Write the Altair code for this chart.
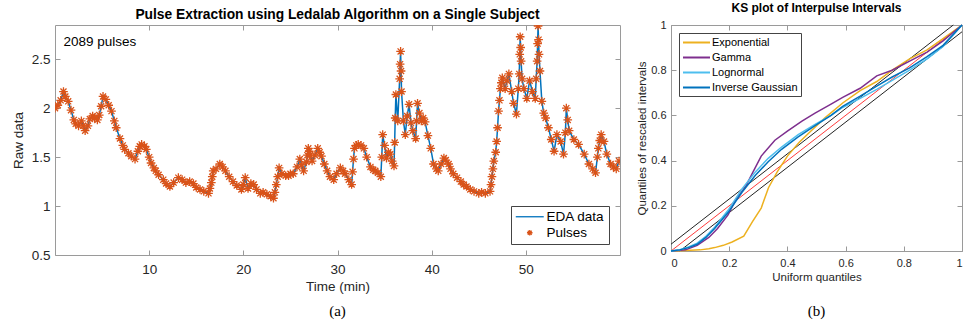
import altair as alt
import pandas as pd

# ---------------- (a) EDA time series ----------------
time_min = [
    0.0, 0.3, 0.6, 0.9, 1.1, 1.4, 1.7, 2.0, 2.2, 2.5,
    2.8, 3.0, 3.2, 3.5, 3.7, 4.0, 4.2, 4.5, 4.7, 4.9,
    5.1, 5.4, 5.7, 6.0, 6.3, 6.5, 6.9, 7.2, 7.4, 7.8,
    8.1, 8.5, 8.8, 9.0, 9.2, 9.5, 9.7, 10.0, 10.2, 10.5,
    10.7, 11.0, 11.5, 11.8, 12.2, 12.6, 13.1, 13.5, 13.9, 14.3,
    14.7, 15.0, 15.4, 15.8, 16.3, 16.6, 16.8, 17.1, 17.5, 17.8,
    18.1, 18.5, 18.9, 19.3, 19.8, 20.0, 20.2, 20.5, 20.8, 21.1,
    21.4, 21.8, 22.1, 22.5, 22.9, 23.2, 23.5, 23.8, 24.1, 24.5,
    24.8, 25.0, 25.3, 25.7, 26.0, 26.2, 26.4, 26.7, 26.9, 27.1,
    27.3, 27.6, 27.9, 28.1, 28.3, 28.6, 28.9, 29.2, 29.6, 29.9,
    30.3, 30.6, 30.8, 31.2, 31.5, 31.8, 32.0, 32.2, 32.5, 32.8,
    33.1, 33.5, 33.8, 34.0, 34.3, 34.6, 34.8, 35.0, 35.2, 35.4,
    35.6, 35.8, 36.0, 36.2, 36.4, 36.6, 36.7, 36.8, 37.0, 37.2,
    37.4, 37.6, 37.8, 38.0, 38.3, 38.5, 38.7, 38.9, 39.1, 39.3,
    39.6, 39.9, 40.2, 40.5, 40.7, 41.0, 41.3, 41.5, 41.8, 42.0,
    42.3, 42.7, 43.1, 43.4, 43.7, 44.1, 44.5, 45.0, 45.3, 45.7,
    46.2, 46.4, 46.6, 46.8, 46.9, 47.0, 47.1, 47.3, 47.5, 47.8,
    48.0, 48.2, 48.5, 48.7, 49.0, 49.2, 49.3, 49.4, 49.5, 49.6,
    49.8, 50.1, 50.4, 50.7, 51.0, 51.1, 51.2, 51.3, 51.4, 51.5,
    51.7, 51.9, 52.1, 52.4, 52.7, 53.0, 53.3, 53.7, 54.0, 54.2,
    54.3, 54.6, 55.1, 55.6, 56.2, 56.7, 57.1, 57.4, 57.6, 57.7,
    58.0, 58.3, 58.6, 59.0, 59.3, 59.6, 59.9,
]
raw_data = [
    2.00, 2.03, 2.08, 2.17, 2.12, 2.07, 1.98, 1.88, 1.84, 1.82,
    1.87, 1.82, 1.77, 1.82, 1.89, 1.92, 1.90, 1.88, 1.93, 2.02,
    2.12, 2.09, 2.03, 1.97, 1.87, 1.80, 1.69, 1.62, 1.58, 1.54,
    1.51, 1.48, 1.56, 1.61, 1.63, 1.61, 1.58, 1.50, 1.44, 1.39,
    1.36, 1.32, 1.27, 1.23, 1.20, 1.24, 1.29, 1.27, 1.24, 1.25,
    1.23, 1.19, 1.17, 1.15, 1.13, 1.24, 1.36, 1.38, 1.43, 1.40,
    1.36, 1.30, 1.25, 1.21, 1.17, 1.22, 1.29, 1.18, 1.23, 1.22,
    1.17, 1.13, 1.14, 1.12, 1.10, 1.08, 1.22, 1.39, 1.33, 1.31,
    1.31, 1.33, 1.33, 1.40, 1.48, 1.42, 1.36, 1.45, 1.59, 1.52,
    1.46, 1.52, 1.59, 1.55, 1.51, 1.43, 1.36, 1.30, 1.27, 1.33,
    1.39, 1.36, 1.33, 1.27, 1.22, 1.59, 1.62, 1.63, 1.62, 1.59,
    1.50, 1.40, 1.37, 1.36, 1.34, 1.30, 1.73, 1.62, 1.49, 1.55,
    1.53, 1.46, 1.41, 2.14, 1.87, 2.30, 2.58, 2.17, 1.87, 1.73,
    1.92, 2.04, 1.85, 1.77, 1.69, 2.05, 1.95, 1.87, 1.90, 1.86,
    1.72, 1.59, 1.43, 1.38, 1.36, 1.43, 1.49, 1.47, 1.43, 1.38,
    1.33, 1.29, 1.25, 1.22, 1.20, 1.17, 1.15, 1.13, 1.14, 1.13,
    1.15, 1.30, 1.46, 1.55, 1.66, 1.80, 1.97, 2.20, 2.31, 2.20,
    2.28, 2.35, 2.17, 2.05, 1.94, 2.20, 2.35, 2.73, 2.48, 2.30,
    2.20, 2.10, 2.28, 2.17, 2.10, 2.30, 2.48, 2.84, 2.55, 2.38,
    2.07, 1.95, 1.90, 1.80, 1.68, 1.56, 1.73, 1.66, 1.53, 1.75,
    2.00, 1.77, 1.68, 1.63, 1.53, 1.43, 1.38, 1.34, 1.50, 1.59,
    1.73, 1.66, 1.53, 1.43, 1.40, 1.38, 1.46,
]
# extra readings taken along the steep rises and spikes
steep_time = [23.35, 23.65, 31.6, 31.7, 34.7, 36.07, 36.13, 36.65, 36.75, 38.4,
              49.35, 51.25, 51.35, 54.45, 57.85, 46.3, 46.5, 47.2, 47.4, 49.45,
              26.8, 27.0, 16.45, 16.7]
steep_value = [1.14, 1.30, 1.35, 1.48, 1.50, 1.65, 1.90, 2.45, 2.38, 1.87,
               2.55, 2.66, 2.70, 1.88, 1.67, 1.22, 1.38, 2.08, 2.26, 2.62,
               1.52, 1.56, 1.18, 1.30]
series_names = ["EDA data", "Pulses"]
series_colors = ["#0072BD", "#D95319"]
note_text = ["2089 pulses"]
note_time = [0.9]
note_value = [2.68]
x_ticks_a = [10, 20, 30, 40, 50]
y_ticks_a = [0.5, 1, 1.5, 2, 2.5]

# ---------------- (b) KS plot ----------------
exp_u = [0, 0.05, 0.10, 0.13, 0.15, 0.18, 0.21, 0.25, 0.28, 0.31, 0.335, 0.365,
         0.40, 0.44, 0.48, 0.53, 0.59, 0.65, 0.707, 0.76, 0.82, 0.88, 0.935, 1.0]
exp_q = [0, 0.002, 0.005, 0.01, 0.015, 0.025, 0.04, 0.066, 0.13, 0.19, 0.28, 0.35,
         0.42, 0.48, 0.53, 0.59, 0.655, 0.71, 0.75, 0.80, 0.85, 0.89, 0.94, 1.0]
gam_u = [0, 0.05, 0.09, 0.13, 0.16, 0.196, 0.226, 0.254, 0.278, 0.31, 0.357, 0.40,
         0.45, 0.495, 0.55, 0.59, 0.65, 0.707, 0.76, 0.82, 0.88, 0.935, 1.0]
gam_q = [0, 0.005, 0.025, 0.06, 0.10, 0.16, 0.235, 0.28, 0.34, 0.42, 0.49, 0.53,
         0.575, 0.61, 0.65, 0.68, 0.72, 0.775, 0.80, 0.84, 0.88, 0.93, 1.0]
logn_u = [0, 0.03, 0.06, 0.09, 0.12, 0.15, 0.196, 0.244, 0.29, 0.334, 0.38, 0.437,
          0.495, 0.55, 0.59, 0.65, 0.707, 0.76, 0.82, 0.88, 0.935, 1.0]
logn_q = [0, 0.006, 0.018, 0.035, 0.065, 0.105, 0.18, 0.275, 0.35, 0.41, 0.46, 0.515,
          0.56, 0.60, 0.635, 0.675, 0.715, 0.755, 0.80, 0.85, 0.905, 1.0]
ig_u = [0, 0.03, 0.06, 0.09, 0.12, 0.15, 0.196, 0.244, 0.29, 0.334, 0.38, 0.437,
        0.495, 0.55, 0.59, 0.65, 0.707, 0.76, 0.82, 0.88, 0.935, 1.0]
ig_q = [0, 0.005, 0.015, 0.03, 0.06, 0.10, 0.17, 0.26, 0.335, 0.395, 0.45, 0.505,
        0.555, 0.60, 0.64, 0.685, 0.73, 0.77, 0.81, 0.86, 0.91, 1.0]
model_names = ["Exponential", "Gamma", "Lognormal", "Inverse Gaussian"]
model_colors = ["#EDB120", "#7E2F8E", "#4DBEEE", "#0072BD"]
diag_u = [0, 1]
diag_q = [0, 1]
upper_u = [0, 0.97]
upper_q = [0.03, 1]
lower_u = [0.03, 1]
lower_q = [0, 0.97]
ticks_b = [0, 0.2, 0.4, 0.6, 0.8, 1]

FONT = "Liberation Sans"
TXT = "#262626"
BOX = "#9a9a9a"
STROKE_PATH = "M-2.5,0L2.5,0"
AST_PATH = "M-0.5,0L0.5,0M0,-0.5L0,0.5M-0.35,-0.35L0.35,0.35M-0.35,0.35L0.35,-0.35"

W1, H1 = 565, 230
W2, H2 = 291, 226

assert len(time_min) == len(raw_data)
assert len(steep_time) == len(steep_value)

eda = pd.concat([
    pd.DataFrame({"t": time_min, "v": raw_data}),
    pd.DataFrame({"t": steep_time, "v": steep_value}),
], ignore_index=True).sort_values("t").reset_index(drop=True)
line_df = eda.assign(series=series_names[0])
pts_df = eda.assign(series=series_names[1])

ax_common = dict(labelFont=FONT, titleFont=FONT, labelColor=TXT, titleColor=TXT,
                 tickColor=BOX, domain=False, grid=False, offset=-5, tickSize=5,
                 titleFontWeight="normal", format=".1~f")

xs_a = alt.Scale(domain=[0, 60], nice=False, zero=False)
ys_a = alt.Scale(domain=[0.5, 2.85], nice=False, zero=False)

leg_a = alt.Legend(title=None, orient="bottom-right", offset=11, padding=4,
                   strokeColor="#444", fillColor="white", labelFont=FONT,
                   labelFontSize=13.5, labelColor="#000", symbolSize=125,
                   symbolStrokeWidth=1.3, rowPadding=1, symbolOffset=8, labelOffset=10)
col_a = alt.Color("series:N", scale=alt.Scale(domain=series_names, range=series_colors), legend=leg_a)
shp_a = alt.Shape("series:N", scale=alt.Scale(domain=series_names, range=[STROKE_PATH, AST_PATH]), legend=leg_a)

line_a = alt.Chart(line_df).mark_line(strokeWidth=1.5, clip=True).encode(
    x=alt.X("t:Q", scale=xs_a, axis=alt.Axis(orient="bottom", values=x_ticks_a, title="Time (min)",
                                           labelFontSize=13.5, titleFontSize=13.5,
                                           labelPadding=7, titlePadding=4, **ax_common)),
    y=alt.Y("v:Q", scale=ys_a, axis=alt.Axis(orient="left", values=y_ticks_a, title="Raw data",
                                           labelFontSize=13.5, titleFontSize=13.5,
                                           labelPadding=5, titlePadding=6, **ax_common)),
    color=col_a,
    order=alt.Order("t:Q"),
)
pts_a = alt.Chart(pts_df).mark_point(filled=False, strokeWidth=1.3, size=300, opacity=1, clip=True).encode(
    x=alt.X("t:Q", scale=xs_a, axis=alt.Axis(orient="top", values=x_ticks_a, labels=False, title=None, **ax_common)),
    y=alt.Y("v:Q", scale=ys_a, axis=alt.Axis(orient="right", values=y_ticks_a, labels=False, title=None, **ax_common)),
    color=col_a,
    shape=shp_a,
)
note_a = alt.Chart(pd.DataFrame({"t": note_time, "v": note_value, "txt": note_text})).mark_text(
    align="left", baseline="middle", font=FONT, fontSize=13.5, color="#000"
).encode(x=alt.X("t:Q", scale=xs_a, axis=None), y=alt.Y("v:Q", scale=ys_a, axis=None), text="txt:N")
cap_a = alt.Chart(pd.DataFrame({"c": ["(a)"]})).mark_text(
    font="Liberation Serif", fontSize=15, color="#000", baseline="middle"
).encode(x=alt.value(W1 / 2), y=alt.value(H1 + 56), text="c:N")

left = alt.layer(line_a, pts_a, note_a, cap_a).resolve_axis(x="independent", y="independent").properties(
    width=W1, height=H1,
    title=alt.TitleParams("Pulse Extraction using Ledalab Algorithm on a Single Subject",
                          font=FONT, fontSize=13.8, fontWeight="bold", color="#000", offset=3),
)

# right panel
ks_df = pd.concat([
    pd.DataFrame({"u": exp_u, "q": exp_q, "model": model_names[0]}),
    pd.DataFrame({"u": gam_u, "q": gam_q, "model": model_names[1]}),
    pd.DataFrame({"u": logn_u, "q": logn_q, "model": model_names[2]}),
    pd.DataFrame({"u": ig_u, "q": ig_q, "model": model_names[3]}),
], ignore_index=True)
ref_df = pd.concat([
    pd.DataFrame({"u": upper_u, "q": upper_q, "ref": "upper"}),
    pd.DataFrame({"u": lower_u, "q": lower_q, "ref": "lower"}),
], ignore_index=True)
diag_df = pd.DataFrame({"u": diag_u, "q": diag_q})

xs_b = alt.Scale(domain=[0, 1], nice=False)
ys_b = alt.Scale(domain=[0, 1], nice=False)

x_b = alt.X("u:Q", scale=xs_b, axis=alt.Axis(orient="bottom", values=ticks_b, title="Uniform quantiles",
                                           labelFontSize=11, titleFontSize=11.5,
                                           labelPadding=6, titlePadding=3, **ax_common))
y_b = alt.Y("q:Q", scale=ys_b, axis=alt.Axis(orient="left", values=ticks_b, title="Quantiles of rescaled intervals",
                                           labelFontSize=11, titleFontSize=11.5,
                                           labelPadding=5, titlePadding=3, **ax_common))
x_b2 = alt.X("u:Q", scale=xs_b, axis=alt.Axis(orient="top", values=ticks_b, labels=False, title=None, **ax_common))
y_b2 = alt.Y("q:Q", scale=ys_b, axis=alt.Axis(orient="right", values=ticks_b, labels=False, title=None, **ax_common))

ref_lines = alt.Chart(ref_df).mark_line(strokeWidth=1, color="#222").encode(x=x_b, y=y_b, detail="ref:N")
diag_line = alt.Chart(diag_df).mark_line(strokeWidth=1, color="#FF3B3B").encode(x=x_b2, y=y_b2)
curves = alt.Chart(ks_df).mark_line(strokeWidth=1.5).encode(
    x=alt.X("u:Q", scale=xs_b, axis=None), y=alt.Y("q:Q", scale=ys_b, axis=None),
    color=alt.Color("model:N", scale=alt.Scale(domain=model_names, range=model_colors),
                    legend=alt.Legend(title=None, orient="top-left", offset=8, padding=3,
                                      strokeColor="#444", fillColor="white", labelFont=FONT,
                                      labelFontSize=11, labelColor="#000", symbolType=STROKE_PATH,
                                      symbolSize=117, symbolStrokeWidth=2, rowPadding=3,
                                      symbolOffset=8, labelOffset=9)),
    order=alt.Order("u:Q"),
)
cap_b = alt.Chart(pd.DataFrame({"c": ["(b)"]})).mark_text(
    font="Liberation Serif", fontSize=15, color="#000", baseline="middle"
).encode(x=alt.value(W2 / 2), y=alt.value(H2 + 60), text="c:N")

right = alt.layer(ref_lines, diag_line, curves, cap_b).resolve_axis(x="independent", y="independent").properties(
    width=W2, height=H2,
    title=alt.TitleParams("KS plot of Interpulse Intervals", font=FONT, fontSize=12,
                          fontWeight="bold", color="#000", offset=4),
)

chart = alt.hconcat(left, right, spacing=15).resolve_scale(
    color="independent", shape="independent"
).properties(
    padding={"left": 10, "top": 1, "right": 0, "bottom": 0}
).configure_view(stroke=BOX, strokeWidth=1)

chart.save("out.html", embed_options={"renderer": "svg", "actions": False})
